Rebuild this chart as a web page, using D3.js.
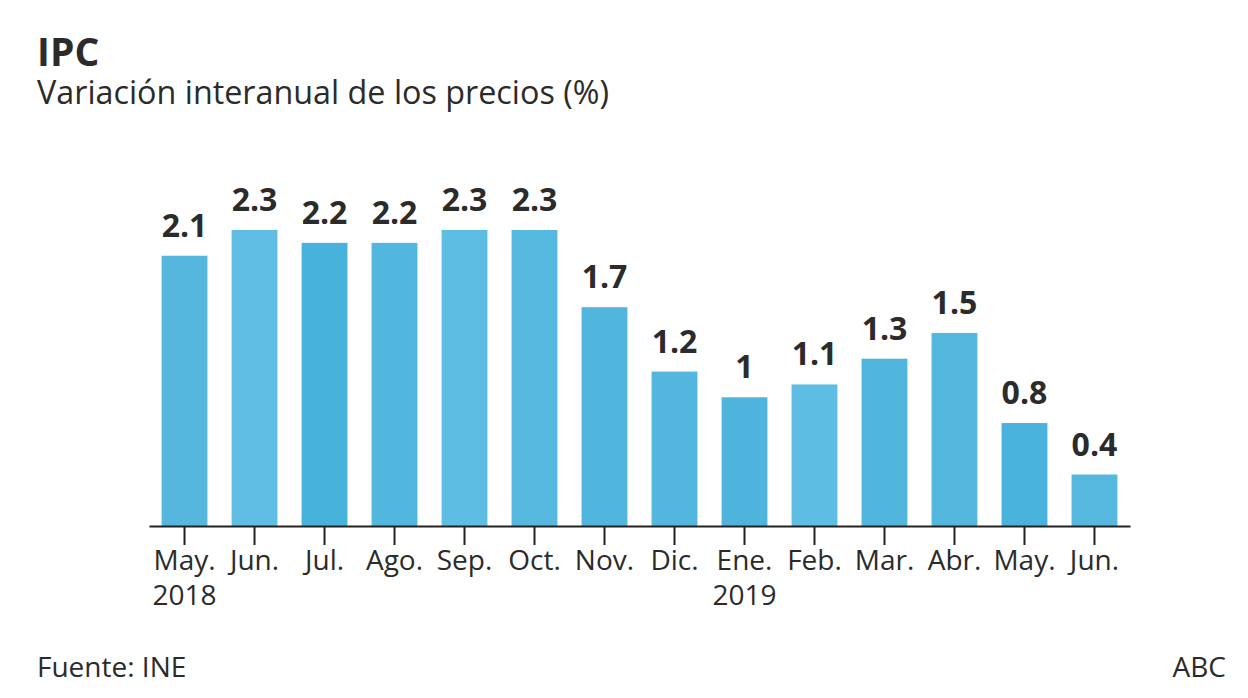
<!DOCTYPE html>
<html><head><meta charset="utf-8">
<script src="https://cdn.jsdelivr.net/npm/d3@7"></script>
<style>body{margin:0;background:#fff}svg{display:block}text{font-family:"Open Sans",sans-serif}</style>
</head><body><svg id="c" width="1248" height="698"></svg>
<script>
const months = ["May.","Jun.","Jul.","Ago.","Sep.","Oct.","Nov.","Dic.","Ene.","Feb.","Mar.","Abr.","May.","Jun."];
const years = ["2018","","","","","","","","2019","","","","",""];
const values = [2.1,2.3,2.2,2.2,2.3,2.3,1.7,1.2,1,1.1,1.3,1.5,0.8,0.4];
const barColors = ["#55b7de","#60bde3","#47b3dd","#52b7de","#5dbde2","#55b8de","#51b6dd","#52b6de","#4fb4dc","#5dbde2","#50b6dd","#54b8de","#4ab3dd","#55b8df"];

const svg = d3.select("#c");
const ink = "#2b2b2b";
const idx = d3.range(values.length);
const x = d3.scaleBand().domain(idx).range([149, 1130]).paddingInner(0.345).paddingOuter(0.18);
const y = d3.scaleLinear().domain([0, 2.3]).range([526, 230]);

svg.append("text").attr("x",37).attr("y",66).attr("font-size",39).attr("font-weight",700).attr("fill",ink).text("IPC");
svg.append("text").attr("x",37).attr("y",104).attr("font-size",32.3).attr("fill",ink).text("Variación interanual de los precios (%)");

svg.selectAll("rect.bar").data(idx).join("rect").attr("class","bar")
  .attr("x",i=>x(i)).attr("width",x.bandwidth())
  .attr("y",i=>y(values[i])).attr("height",i=>y(0)-y(values[i]))
  .attr("fill",i=>barColors[i]);

svg.selectAll("text.val").data(idx).join("text").attr("class","val")
  .attr("x",i=>x(i)+x.bandwidth()/2).attr("y",i=>y(values[i])-19)
  .attr("text-anchor","middle").attr("font-size",32).attr("font-weight",700).attr("fill",ink)
  .text(i=>d3.format("")(values[i]));

const ax = svg.append("g").attr("transform","translate(0,526)")
  .call(d3.axisBottom(x).tickSize(19).tickSizeOuter(0).tickFormat(i=>months[i]));
ax.select(".domain").attr("stroke","#222").attr("stroke-width",2);
ax.selectAll(".tick line").attr("stroke","#222").attr("stroke-width",2);
ax.selectAll(".tick text").attr("font-size",28).attr("fill",ink).attr("y",44).attr("dy",0)
  .attr("font-family","Open Sans, sans-serif");
ax.selectAll(".tick").append("text").attr("y",79).attr("text-anchor","middle")
  .attr("font-size",28).attr("fill",ink).attr("font-family","Open Sans, sans-serif").text(i=>years[i]);

svg.append("text").attr("x",37).attr("y",677).attr("font-size",28).attr("fill",ink).text("Fuente: INE");
svg.append("text").attr("x",1226).attr("y",677).attr("text-anchor","end").attr("font-size",28).attr("fill",ink).text("ABC");
</script></body></html>
